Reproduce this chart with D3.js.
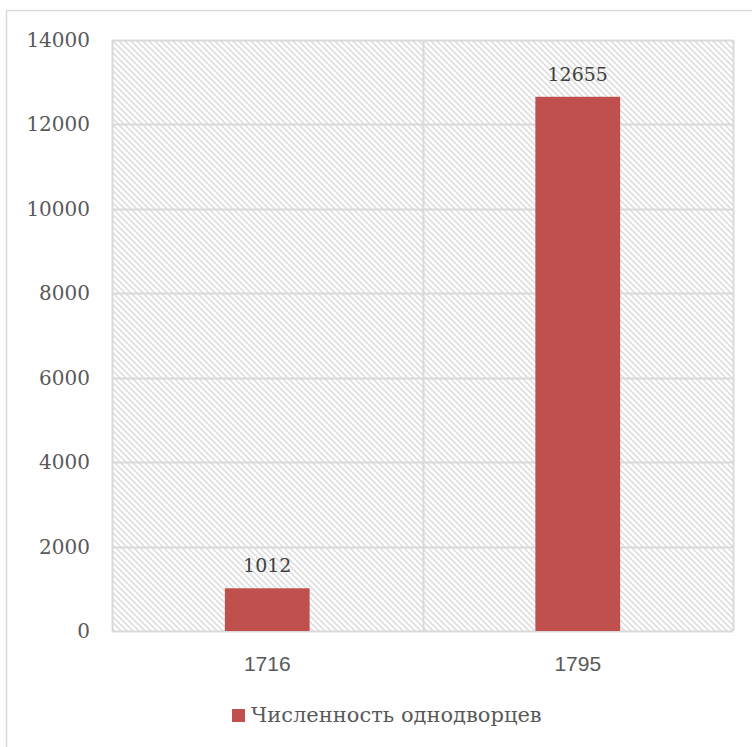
<!DOCTYPE html>
<html>
<head>
<meta charset="utf-8">
<script src="https://cdn.jsdelivr.net/npm/d3@7"></script>
<style>
  body { margin: 0; background: #fff; }
  svg { display: block; }
</style>
</head>
<body>
<svg id="chart"></svg>
<script>
// chart values
const years = ["1716", "1795"];
const counts = [1012, 12655];
const yTicks = [0, 2000, 4000, 6000, 8000, 10000, 12000, 14000];
const seriesName = "Численность однодворцев";

const svgWidth = 752;
const svgHeight = 747;
const margin = { top: 40, right: 19, bottom: 116, left: 112 };
const plotW = svgWidth - margin.left - margin.right;
const plotH = svgHeight - margin.top - margin.bottom;
const barColor = "#C0504D";
const gridColor = "#d9d9d9";
const serif = "'DejaVu Serif', Georgia, serif";

const svg = d3.select("#chart")
    .attr("width", svgWidth)
    .attr("height", svgHeight);

// hatch pattern for plot background
const defs = svg.append("defs");
const pat = defs.append("pattern")
    .attr("id", "hatch")
    .attr("patternUnits", "userSpaceOnUse")
    .attr("width", 6)
    .attr("height", 6);
pat.append("path")
    .attr("d", "M-1,-1 L7,7 M-1,5 L1,7 M5,-1 L7,1")
    .attr("stroke", "#dedede")
    .attr("stroke-width", 1.6);

// outer chart border (runs off the window right/bottom)
svg.append("rect")
    .attr("x", 6.5)
    .attr("y", 10.5)
    .attr("width", 800)
    .attr("height", 800)
    .attr("fill", "none")
    .attr("stroke", gridColor)
    .attr("stroke-width", 1.5);

const x = d3.scaleBand()
    .domain(years)
    .range([0, plotW])
    .paddingInner(0)
    .paddingOuter(0);

const y = d3.scaleLinear()
    .domain([0, 14000])
    .range([plotH, 0]);

const g = svg.append("g")
    .attr("transform", `translate(${margin.left},${margin.top})`);

g.append("rect")
    .attr("width", plotW)
    .attr("height", plotH)
    .attr("fill", "url(#hatch)");

// horizontal gridlines
g.selectAll(".hgrid")
    .data(yTicks)
    .enter()
    .append("line")
    .attr("x1", 0)
    .attr("x2", plotW)
    .attr("y1", d => Math.round(y(d)) + 0.5)
    .attr("y2", d => Math.round(y(d)) + 0.5)
    .attr("stroke", gridColor)
    .attr("stroke-width", 2);

// vertical gridlines at category edges
const edges = [0, ...years.map(d => x(d) + x.bandwidth())];
g.selectAll(".vgrid")
    .data(edges)
    .enter()
    .append("line")
    .attr("x1", d => Math.round(d) + 0.5)
    .attr("x2", d => Math.round(d) + 0.5)
    .attr("y1", 0)
    .attr("y2", plotH)
    .attr("stroke", gridColor)
    .attr("stroke-width", 2);

// y tick labels
g.selectAll(".ylab")
    .data(yTicks)
    .enter()
    .append("text")
    .attr("x", -22)
    .attr("y", d => y(d))
    .attr("dy", "0.35em")
    .attr("text-anchor", "end")
    .attr("font-family", serif)
    .attr("font-size", 20)
    .attr("fill", "#595959")
    .text(d => d);

// x tick labels
g.selectAll(".xlab")
    .data(years)
    .enter()
    .append("text")
    .attr("x", d => x(d) + x.bandwidth() / 2)
    .attr("y", plotH + 40)
    .attr("text-anchor", "middle")
    .attr("font-family", "'Liberation Sans', Arial, sans-serif")
    .attr("font-size", 21)
    .attr("fill", "#595959")
    .text(d => d);

// bars
const barW = x.bandwidth() * 0.273;
g.selectAll(".bar")
    .data(counts)
    .enter()
    .append("rect")
    .attr("x", (d, i) => x(years[i]) + (x.bandwidth() - barW) / 2)
    .attr("y", d => y(d))
    .attr("width", barW)
    .attr("height", d => plotH - y(d))
    .attr("fill", barColor);

// value labels
g.selectAll(".val")
    .data(counts)
    .enter()
    .append("text")
    .attr("x", (d, i) => x(years[i]) + x.bandwidth() / 2)
    .attr("y", d => y(d) - 16)
    .attr("text-anchor", "middle")
    .attr("font-family", serif)
    .attr("font-size", 19)
    .attr("fill", "#404040")
    .text(d => d);

// legend
const legend = svg.append("g")
    .attr("transform", "translate(232,709)");
legend.append("rect")
    .attr("width", 13)
    .attr("height", 13)
    .attr("fill", barColor);
legend.append("text")
    .attr("x", 19)
    .attr("y", 13)
    .attr("font-family", serif)
    .attr("font-size", 21)
    .attr("fill", "#595959")
    .text(seriesName);
</script>
</body>
</html>
